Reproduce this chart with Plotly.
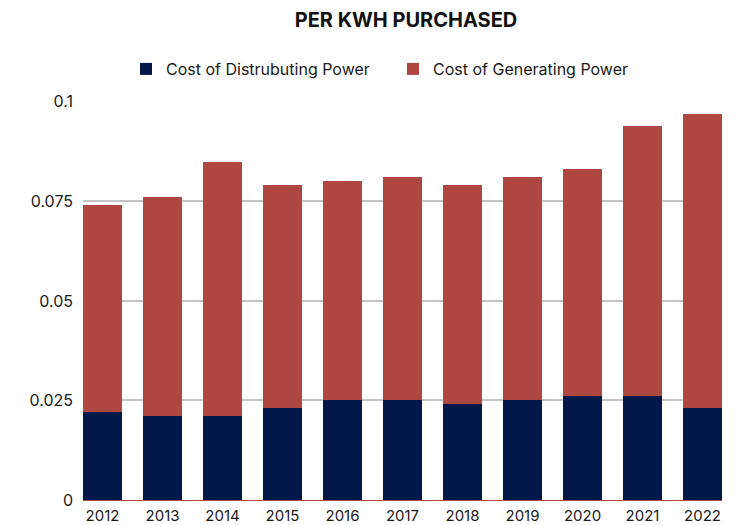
import plotly.graph_objects as go

years = ["2012", "2013", "2014", "2015", "2016", "2017", "2018", "2019", "2020", "2021", "2022"]
distributing = [0.022, 0.021, 0.021, 0.023, 0.025, 0.025, 0.024, 0.025, 0.026, 0.026, 0.023]
generating = [0.052, 0.055, 0.064, 0.056, 0.055, 0.056, 0.055, 0.056, 0.057, 0.068, 0.074]
y_ticks = [0, 0.025, 0.05, 0.075, 0.1]
y_tick_labels = ["0", "0.025", "0.05", "0.075", "0.1"]

FONT = "Inter, Lato, sans-serif"
W, H = 744, 517  # page body adds an 8px margin
ML, MR, MT, MB = 75, 30, 93, 25
PW, PH = W - ML - MR, H - MT - MB

fig = go.Figure()
fig.add_trace(go.Bar(x=years, y=distributing, name="Cost of Distrubuting Power",
                     marker=dict(color="#02174A", line=dict(width=0))))
fig.add_trace(go.Bar(x=years, y=generating, name="Cost of Generating Power",
                     marker=dict(color="#AE4740", line=dict(width=0))))

fig.update_layout(
    width=W, height=H,
    barmode="stack", bargap=0.35,
    paper_bgcolor="white", plot_bgcolor="white",
    margin=dict(l=ML, r=MR, t=MT, b=MB, autoexpand=False),
    font=dict(family=FONT, color="#1a1a1a", size=14),
    title=dict(text="<b>PER KWH PURCHASED</b>", x=398 / W, xanchor="center", y=1 - 12 / H, yanchor="middle",
               font=dict(family=FONT, size=20, color="#111111")),
    legend=dict(orientation="h", x=(118 - ML) / PW, xanchor="left", y=1 + (MT - 61) / PH, yanchor="middle",
                font=dict(family=FONT, size=16, color="#1a1a1a"), entrywidth=222,
                traceorder="normal", bgcolor="rgba(0,0,0,0)"),
    showlegend=True,
)
fig.update_xaxes(type="category", range=[-0.325, 10.325], showgrid=False, showline=False,
                 ticks="", tickfont=dict(size=15, color="#1a1a1a"), ticklabelstandoff=5,
                 automargin=False)
fig.update_yaxes(range=[0, 0.1002], tickvals=y_ticks, ticktext=y_tick_labels,
                 showgrid=True, gridcolor="#C4C4C4", gridwidth=2,
                 zeroline=True, zerolinecolor="#B04A45", zerolinewidth=1,
                 showline=False, ticks="", tickfont=dict(size=16, color="#1a1a1a"),
                 ticklabelstandoff=9, automargin=False)

fig.write_html("out.html")
